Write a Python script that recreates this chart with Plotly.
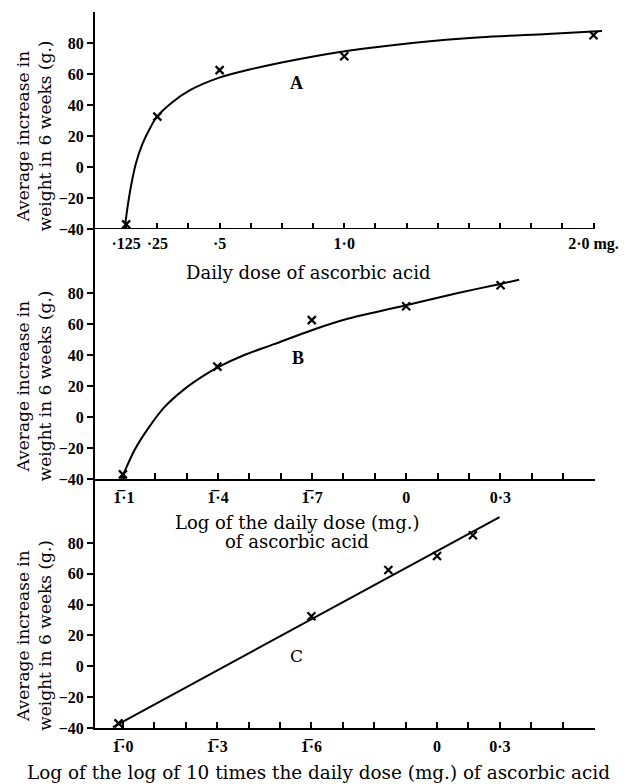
import plotly.graph_objects as go

# ---- data ----
dose_mg = [0.125, 0.25, 0.5, 1.0, 2.0]
weight_gain = [-37, 32.5, 62.5, 71.5, 85]
log_dose = [-0.903, -0.602, -0.301, 0.0, 0.301]
loglog_dose = [-1.014, -0.400, -0.155, 0.0, 0.114]

curve_a_x = [0.119, 0.130, 0.144, 0.164, 0.190, 0.224, 0.244, 0.304, 0.383, 0.496,
             0.616, 0.816, 1.016, 1.282, 1.548, 1.814, 2.034]
curve_a_y = [-40, -26.5, -12.7, 2.2, 14.8, 26.0, 31.5, 41.0, 49.7, 57.5,
             62.7, 69.5, 75.0, 80.2, 83.7, 85.8, 87.7]

curve_b_x = [-0.908, -0.865, -0.823, -0.770, -0.707, -0.643, -0.596, -0.516, -0.421,
             -0.301, -0.184, -0.004, 0.165, 0.292, 0.360]
curve_b_y = [-40, -21.0, -7.5, 6.5, 18.0, 27.0, 32.5, 40.0, 47.0,
             56.0, 63.5, 72.0, 80.0, 85.5, 88.5]

fit_c_x = [-1.032, 0.199]
fit_c_y = [-39.4, 96.8]

y_tick_vals = [-40, -20, 0, 20, 40, 60, 80]
y_tick_text = ["\u221240", "\u221220", "0", "20", "40", "60", "80"]

a_tick_vals = [0.125, 0.25, 0.375, 0.5, 0.625, 0.75, 0.875, 1.0, 1.125, 1.25,
               1.375, 1.5, 1.625, 1.75, 1.875, 2.0]
a_tick_text = ["\u00b7125", "\u00b725", "", "\u00b75", "", "", "", "1\u00b70",
               "", "", "", "", "", "", "", "2\u00b70 mg."]

b_tick_vals = [-0.9, -0.8, -0.7, -0.6, -0.5, -0.4, -0.3, -0.2, -0.1, 0.0,
               0.1, 0.2, 0.3, 0.4, 0.5, 0.6]
b_tick_text = ["1\u0305\u00b71", "", "", "1\u0305\u00b74", "", "", "1\u0305\u00b77", "", "", "0",
               "", "", "0\u00b73", "", "", ""]

c_tick_vals = [-1.0, -0.9, -0.8, -0.7, -0.6, -0.5, -0.4, -0.3, -0.2, -0.1,
               0.0, 0.1, 0.2, 0.3, 0.4, 0.5]
c_tick_text = ["1\u0305\u00b70", "", "", "1\u0305\u00b73", "", "", "1\u0305\u00b76", "", "", "",
               "0", "", "0\u00b73", "", "", ""]

y_title_1 = "Average increase in"
y_title_2 = "weight in 6 weeks (g.)"
x_title_a = "Daily dose of ascorbic acid"
x_title_b1 = "Log of the daily dose (mg.)"
x_title_b2 = "of ascorbic acid"
x_title_c = "Log of the log of 10 times the daily dose (mg.) of ascorbic acid"

SERIF = "DejaVu Serif"
TICKF = dict(family="Liberation Serif", size=16, color="black", weight="bold")

fig = go.Figure()

line_style = dict(color="black", width=2, shape="spline", smoothing=0.8)
mark_style = dict(symbol="x-thin", size=8, color="black", line=dict(color="black", width=2.2))

# Panel A
fig.add_trace(go.Scatter(x=curve_a_x, y=curve_a_y, mode="lines", line=line_style,
                         xaxis="x", yaxis="y", showlegend=False))
fig.add_trace(go.Scatter(x=dose_mg, y=weight_gain, mode="markers", marker=mark_style,
                         xaxis="x", yaxis="y", showlegend=False, cliponaxis=False))
# Panel B
fig.add_trace(go.Scatter(x=curve_b_x, y=curve_b_y, mode="lines", line=line_style,
                         xaxis="x2", yaxis="y2", showlegend=False))
fig.add_trace(go.Scatter(x=log_dose, y=weight_gain, mode="markers", marker=mark_style,
                         xaxis="x2", yaxis="y2", showlegend=False, cliponaxis=False))
# Panel C
fig.add_trace(go.Scatter(x=fit_c_x, y=fit_c_y, mode="lines", line=dict(color="black", width=2),
                         xaxis="x3", yaxis="y3", showlegend=False))
fig.add_trace(go.Scatter(x=loglog_dose, y=weight_gain, mode="markers", marker=mark_style,
                         xaxis="x3", yaxis="y3", showlegend=False, cliponaxis=False))

PLOT_W = 513.0
PLOT_H = 716.0
BC_END = 503.0 / PLOT_W
DOM_C = [0, 249 / PLOT_H]
DOM_B = [249 / PLOT_H, 499 / PLOT_H]
DOM_A = [499 / PLOT_H, 1]

def xax(dom, rng, tv, tt, showline):
    return dict(domain=dom, range=rng, tickmode="array", tickvals=tv, ticktext=tt,
                ticks="inside", ticklen=6, tickwidth=1.6, tickcolor="black",
                showline=showline, linecolor="black", linewidth=2,
                showgrid=False, zeroline=False, tickfont=dict(family="Liberation Serif", size=16,
                                                             color="black", weight="bold"),
                ticklabelstandoff=3, fixedrange=True)

def yax(dom, rng, anchor):
    return dict(domain=dom, range=rng, anchor=anchor, tickmode="array",
                tickvals=y_tick_vals, ticktext=y_tick_text,
                ticks="outside", ticklen=6, tickwidth=1.6, tickcolor="black",
                showline=True, linecolor="black", linewidth=2,
                showgrid=False, zeroline=False, tickfont=TICKF, fixedrange=True)

fig.update_layout(
    width=631, height=784,
    margin=dict(l=95, r=23, t=12, b=56),
    paper_bgcolor="white", plot_bgcolor="white",
    xaxis=dict(xax([0, 1], [0, 2.046], a_tick_vals, a_tick_text, False), anchor="y"),
    yaxis=yax(DOM_A, [-40, 100], "x"),
    xaxis2=dict(xax([0, BC_END], [-0.992, 0.602], b_tick_vals, b_tick_text, True), anchor="y2"),
    yaxis2=yax(DOM_B, [-40, 121.3], "x2"),
    xaxis3=dict(xax([0, BC_END], [-1.089, 0.503], c_tick_vals, c_tick_text, True), anchor="y3"),
    yaxis3=yax(DOM_C, [-40, 121.5], "x3"),
)

# x-axis line of panel A ends at 2.0 mg
fig.add_shape(type="line", xref="x", yref="y", x0=0, x1=2.0, y0=-40, y1=-40,
              line=dict(color="black", width=2))

ann = []
tfont = dict(family=SERIF, size=18, color="black")
yfont = dict(family=SERIF, size=17, color="black")
for yref in ["y", "y2", "y3"]:
    ann.append(dict(text=y_title_1, xref="paper", yref=yref, x=(23 - 95) / PLOT_W, y=20,
                    textangle=-90, showarrow=False, font=yfont, xanchor="center", yanchor="middle"))
    ann.append(dict(text=y_title_2, xref="paper", yref=yref, x=(45 - 95) / PLOT_W, y=20,
                    textangle=-90, showarrow=False, font=yfont, xanchor="center", yanchor="middle"))

ann.append(dict(text=x_title_a, xref="paper", yref="paper", x=(309 - 95) / PLOT_W,
                y=(728 - 272) / PLOT_H, showarrow=False, font=tfont, xanchor="center", yanchor="middle"))
ann.append(dict(text=x_title_b1, xref="paper", yref="paper", x=(298 - 95) / PLOT_W,
                y=(728 - 522) / PLOT_H, showarrow=False, font=tfont, xanchor="center", yanchor="middle"))
ann.append(dict(text=x_title_b2, xref="paper", yref="paper", x=(298 - 95) / PLOT_W,
                y=(728 - 541) / PLOT_H, showarrow=False, font=tfont, xanchor="center", yanchor="middle"))
ann.append(dict(text=x_title_c, xref="paper", yref="paper", x=(320 - 95) / PLOT_W,
                y=(728 - 772) / PLOT_H, showarrow=False,
                font=dict(family=SERIF, size=18.4, color="black"), xanchor="center", yanchor="middle"))

lfont_b = dict(family="Liberation Serif", size=18, color="black", weight="bold")
ann.append(dict(text="A", xref="x", yref="y", x=0.807, y=54, showarrow=False, font=lfont_b))
ann.append(dict(text="B", xref="x2", yref="y2", x=-0.345, y=38, showarrow=False, font=lfont_b))
ann.append(dict(text="C", xref="x3", yref="y3", x=-0.449, y=7, showarrow=False,
                font=dict(family=SERIF, size=17, color="black")))

fig.update_layout(annotations=ann)

fig.write_html("out.html", config={"displayModeBar": False},
               post_script="document.body.style.margin='0';")
